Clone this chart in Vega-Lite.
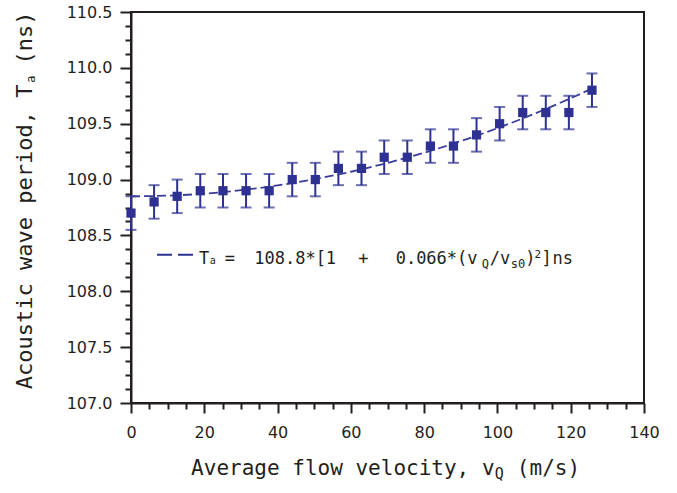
{
  "$schema": "https://vega.github.io/schema/vega-lite/v6.json",
  "width": 513,
  "height": 391,
  "autosize": "none",
  "padding": {"left": 131, "top": 12, "right": 33, "bottom": 90},
  "background": "white",
  "config": {
    "view": {"stroke": "#231f20", "strokeWidth": 2},
    "axis": {"grid": false, "domainColor": "#231f20", "domainWidth": 2, "tickColor": "#231f20", "tickWidth": 2, "labelColor": "#231f20", "labelFont": "DejaVu Sans", "labelFontSize": 16, "title": null}
  },
  "resolve": {"axis": {"x": "independent", "y": "independent"}},
  "datasets": {
    "meas": [
      {"v": 0, "T": 108.7, "lo": 108.55, "hi": 108.85},
      {"v": 6.3, "T": 108.8, "lo": 108.65, "hi": 108.95},
      {"v": 12.6, "T": 108.85, "lo": 108.7, "hi": 109.0},
      {"v": 18.9, "T": 108.9, "lo": 108.75, "hi": 109.05},
      {"v": 25.1, "T": 108.9, "lo": 108.75, "hi": 109.05},
      {"v": 31.4, "T": 108.9, "lo": 108.75, "hi": 109.05},
      {"v": 37.7, "T": 108.9, "lo": 108.75, "hi": 109.05},
      {"v": 44.0, "T": 109.0, "lo": 108.85, "hi": 109.15},
      {"v": 50.3, "T": 109.0, "lo": 108.85, "hi": 109.15},
      {"v": 56.6, "T": 109.1, "lo": 108.95, "hi": 109.25},
      {"v": 62.9, "T": 109.1, "lo": 108.95, "hi": 109.25},
      {"v": 69.1, "T": 109.2, "lo": 109.05, "hi": 109.35},
      {"v": 75.4, "T": 109.2, "lo": 109.05, "hi": 109.35},
      {"v": 81.7, "T": 109.3, "lo": 109.15, "hi": 109.45},
      {"v": 88.0, "T": 109.3, "lo": 109.15, "hi": 109.45},
      {"v": 94.3, "T": 109.4, "lo": 109.25, "hi": 109.55},
      {"v": 100.6, "T": 109.5, "lo": 109.35, "hi": 109.65},
      {"v": 106.9, "T": 109.6, "lo": 109.45, "hi": 109.75},
      {"v": 113.2, "T": 109.6, "lo": 109.45, "hi": 109.75},
      {"v": 119.5, "T": 109.6, "lo": 109.45, "hi": 109.75},
      {"v": 125.8, "T": 109.8, "lo": 109.65, "hi": 109.95}
    ],
    "fit": [
      {"v": 0, "T": 108.85}, {"v": 10, "T": 108.856}, {"v": 20, "T": 108.874},
      {"v": 30, "T": 108.905}, {"v": 40, "T": 108.948}, {"v": 50, "T": 109.003},
      {"v": 60, "T": 109.07}, {"v": 70, "T": 109.149}, {"v": 80, "T": 109.24},
      {"v": 90, "T": 109.344}, {"v": 100, "T": 109.46}, {"v": 110, "T": 109.588},
      {"v": 120, "T": 109.728}, {"v": 126, "T": 109.818}
    ],
    "one": [{}]
  },
  "layer": [
    {
      "data": {"name": "meas"},
      "mark": {"type": "rule", "color": "#2e3192", "strokeWidth": 2},
      "encoding": {
        "x": {"field": "v", "type": "quantitative", "scale": {"domain": [0, 140], "nice": false},
          "axis": {"orient": "bottom", "values": [5,10,15,25,30,35,45,50,55,65,70,75,85,90,95,105,110,115,125,130,135], "labels": false, "domain": false, "tickSize": 6}},
        "y": {"field": "lo", "type": "quantitative", "scale": {"domain": [107, 110.5], "nice": false, "zero": false},
          "axis": {"orient": "left", "values": [107.125,107.25,107.375,107.625,107.75,107.875,108.125,108.25,108.375,108.625,108.75,108.875,109.125,109.25,109.375,109.625,109.75,109.875,110.125,110.25,110.375], "labels": false, "domain": false, "tickSize": 6}},
        "y2": {"field": "hi"}
      }
    },
    {
      "data": {"name": "meas"},
      "mark": {"type": "tick", "orient": "horizontal", "color": "#2e3192", "size": 11, "thickness": 2},
      "encoding": {
        "x": {"field": "v", "type": "quantitative", "scale": {"domain": [0, 140], "nice": false}, "axis": null},
        "y": {"field": "lo", "type": "quantitative", "scale": {"domain": [107, 110.5], "nice": false, "zero": false}, "axis": null}
      }
    },
    {
      "data": {"name": "meas"},
      "mark": {"type": "tick", "orient": "horizontal", "color": "#2e3192", "size": 11, "thickness": 2},
      "encoding": {
        "x": {"field": "v", "type": "quantitative", "scale": {"domain": [0, 140], "nice": false}, "axis": null},
        "y": {"field": "hi", "type": "quantitative", "scale": {"domain": [107, 110.5], "nice": false, "zero": false}, "axis": null}
      }
    },
    {
      "data": {"name": "fit"},
      "mark": {"type": "line", "color": "#3a3d9a", "strokeWidth": 1.8, "strokeDash": [9, 4], "interpolate": "monotone"},
      "encoding": {
        "x": {"field": "v", "type": "quantitative", "scale": {"domain": [0, 140], "nice": false}, "axis": null},
        "y": {"field": "T", "type": "quantitative", "scale": {"domain": [107, 110.5], "nice": false, "zero": false}, "axis": null}
      }
    },
    {
      "data": {"name": "meas"},
      "mark": {"type": "square", "color": "#2e3192", "opacity": 1, "filled": true, "size": 85},
      "encoding": {
        "x": {"field": "v", "type": "quantitative", "scale": {"domain": [0, 140], "nice": false},
          "axis": {"orient": "bottom", "values": [0,20,40,60,80,100,120,140], "tickSize": 10, "labelPadding": 11, "labelFlush": false, "labelOverlap": false}},
        "y": {"field": "T", "type": "quantitative", "scale": {"domain": [107, 110.5], "nice": false, "zero": false},
          "axis": {"orient": "left", "values": [107,107.5,108,108.5,109,109.5,110,110.5], "format": ".1f", "tickSize": 11, "labelPadding": 8, "labelFlush": false, "labelOverlap": false}}
      }
    },
    {
      "data": {"name": "one"},
      "mark": {"type": "rule", "color": "#2e3192", "strokeWidth": 2, "strokeDash": [15, 6]},
      "encoding": {
        "x": {"datum": 7.1, "type": "quantitative", "scale": {"domain": [0, 140], "nice": false}, "axis": null},
        "x2": {"datum": 16.92},
        "y": {"datum": 108.327, "type": "quantitative", "scale": {"domain": [107, 110.5], "nice": false, "zero": false}, "axis": null}
      }
    },
    {
      "data": {"name": "one"},
      "layer": [
        {"mark": {"type": "text", "font": "DejaVu Sans Mono", "fontSize": 17, "color": "#231f20", "align": "center", "baseline": "alphabetic"},
         "encoding": {"x": {"datum": 19.98, "type": "quantitative", "axis": null}, "y": {"datum": 108.242, "type": "quantitative", "axis": null}, "text": {"value": "T"}}},
        {"mark": {"type": "text", "font": "DejaVu Sans Mono", "fontSize": 10, "color": "#231f20", "align": "center", "baseline": "alphabetic", "dy": 0},
         "encoding": {"x": {"datum": 22.3, "type": "quantitative", "axis": null}, "y": {"datum": 108.242, "type": "quantitative", "axis": null}, "text": {"value": "a"}}},
        {"mark": {"type": "text", "font": "DejaVu Sans Mono", "fontSize": 17, "color": "#231f20", "align": "center", "baseline": "alphabetic"},
         "encoding": {"x": {"datum": 27.0, "type": "quantitative", "axis": null}, "y": {"datum": 108.242, "type": "quantitative", "axis": null}, "text": {"value": "="}}},
        {"mark": {"type": "text", "font": "DejaVu Sans Mono", "fontSize": 17, "color": "#231f20", "align": "center", "baseline": "alphabetic"},
         "encoding": {"x": {"datum": 44.8, "type": "quantitative", "axis": null}, "y": {"datum": 108.242, "type": "quantitative", "axis": null}, "text": {"value": "108.8*[1"}}},
        {"mark": {"type": "text", "font": "DejaVu Sans Mono", "fontSize": 17, "color": "#231f20", "align": "center", "baseline": "alphabetic"},
         "encoding": {"x": {"datum": 63.4, "type": "quantitative", "axis": null}, "y": {"datum": 108.242, "type": "quantitative", "axis": null}, "text": {"value": "+"}}},
        {"mark": {"type": "text", "font": "DejaVu Sans Mono", "fontSize": 17, "color": "#231f20", "align": "center", "baseline": "alphabetic"},
         "encoding": {"x": {"datum": 83.4, "type": "quantitative", "axis": null}, "y": {"datum": 108.242, "type": "quantitative", "axis": null}, "text": {"value": "0.066*(v"}}},
        {"mark": {"type": "text", "font": "DejaVu Sans Mono", "fontSize": 12, "color": "#231f20", "align": "center", "baseline": "alphabetic", "dy": 4},
         "encoding": {"x": {"datum": 96.7, "type": "quantitative", "axis": null}, "y": {"datum": 108.242, "type": "quantitative", "axis": null}, "text": {"value": "Q"}}},
        {"mark": {"type": "text", "font": "DejaVu Sans Mono", "fontSize": 17, "color": "#231f20", "align": "center", "baseline": "alphabetic"},
         "encoding": {"x": {"datum": 100.7, "type": "quantitative", "axis": null}, "y": {"datum": 108.242, "type": "quantitative", "axis": null}, "text": {"value": "/v"}}},
        {"mark": {"type": "text", "font": "DejaVu Sans Mono", "fontSize": 12, "color": "#231f20", "align": "center", "baseline": "alphabetic", "dy": 4},
         "encoding": {"x": {"datum": 105.6, "type": "quantitative", "axis": null}, "y": {"datum": 108.242, "type": "quantitative", "axis": null}, "text": {"value": "s0"}}},
        {"mark": {"type": "text", "font": "DejaVu Sans Mono", "fontSize": 17, "color": "#231f20", "align": "center", "baseline": "alphabetic"},
         "encoding": {"x": {"datum": 109.0, "type": "quantitative", "axis": null}, "y": {"datum": 108.242, "type": "quantitative", "axis": null}, "text": {"value": ")"}}},
        {"mark": {"type": "text", "font": "DejaVu Sans Mono", "fontSize": 11, "color": "#231f20", "align": "center", "baseline": "alphabetic", "dy": -6},
         "encoding": {"x": {"datum": 111.0, "type": "quantitative", "axis": null}, "y": {"datum": 108.242, "type": "quantitative", "axis": null}, "text": {"value": "2"}}},
        {"mark": {"type": "text", "font": "DejaVu Sans Mono", "fontSize": 17, "color": "#231f20", "align": "center", "baseline": "alphabetic"},
         "encoding": {"x": {"datum": 113.4, "type": "quantitative", "axis": null}, "y": {"datum": 108.242, "type": "quantitative", "axis": null}, "text": {"value": "]"}}},
        {"mark": {"type": "text", "font": "DejaVu Sans Mono", "fontSize": 17, "color": "#231f20", "align": "center", "baseline": "alphabetic"},
         "encoding": {"x": {"datum": 117.8, "type": "quantitative", "axis": null}, "y": {"datum": 108.242, "type": "quantitative", "axis": null}, "text": {"value": "ns"}}},
        {"mark": {"type": "text", "font": "DejaVu Sans Mono", "fontSize": 21, "color": "#231f20", "align": "left", "baseline": "alphabetic"},
         "encoding": {"x": {"datum": 16.4, "type": "quantitative", "axis": null}, "y": {"datum": 106.358, "type": "quantitative", "axis": null}, "text": {"value": "Average flow velocity, v"}}},
        {"mark": {"type": "text", "font": "DejaVu Sans Mono", "fontSize": 15, "color": "#231f20", "align": "left", "baseline": "alphabetic", "dy": 4},
         "encoding": {"x": {"datum": 99.3, "type": "quantitative", "axis": null}, "y": {"datum": 106.358, "type": "quantitative", "axis": null}, "text": {"value": "Q"}}},
        {"mark": {"type": "text", "font": "DejaVu Sans Mono", "fontSize": 21, "color": "#231f20", "align": "left", "baseline": "alphabetic"},
         "encoding": {"x": {"datum": 105.3, "type": "quantitative", "axis": null}, "y": {"datum": 106.358, "type": "quantitative", "axis": null}, "text": {"value": "(m/s)"}}},
        {"mark": {"type": "text", "font": "DejaVu Sans Mono", "fontSize": 22, "color": "#231f20", "align": "right", "baseline": "alphabetic", "angle": 270},
         "encoding": {"x": {"datum": -27.0, "type": "quantitative", "axis": null}, "y": {"datum": 109.85, "type": "quantitative", "axis": null}, "text": {"value": "Acoustic wave period, T"}}},
        {"mark": {"type": "text", "font": "DejaVu Sans Mono", "fontSize": 12, "color": "#231f20", "align": "left", "baseline": "alphabetic", "angle": 270, "dy": 3},
         "encoding": {"x": {"datum": -27.0, "type": "quantitative", "axis": null}, "y": {"datum": 109.867, "type": "quantitative", "axis": null}, "text": {"value": "a"}}},
        {"mark": {"type": "text", "font": "DejaVu Sans Mono", "fontSize": 22, "color": "#231f20", "align": "left", "baseline": "alphabetic", "angle": 270},
         "encoding": {"x": {"datum": -27.0, "type": "quantitative", "axis": null}, "y": {"datum": 110.03, "type": "quantitative", "axis": null}, "text": {"value": "(ns)"}}}
      ]
    }
  ]
}
